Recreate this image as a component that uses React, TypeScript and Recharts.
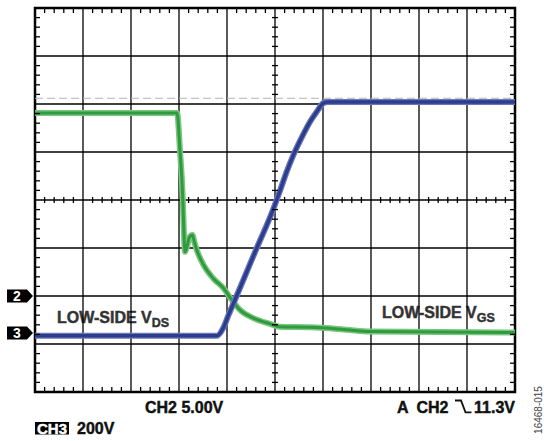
import React from "react";
import {
  ComposedChart,
  Line,
  Scatter,
  XAxis,
  YAxis,
  ReferenceLine,
  ReferenceArea,
  ReferenceDot,
} from "recharts";

const GREEN_X = [0, 2.96, 3.02, 3.08, 3.1, 3.125, 3.17, 3.21, 3.28, 3.32, 3.37, 3.51, 3.71, 3.92, 4.1, 4.27, 4.55, 4.9, 5.1, 5.73, 6.15, 6.56, 6.98, 10];
const GREEN_Y = [5.81, 5.81, 5.04, 4.0, 3.375, 2.92, 3.04, 3.21, 3.27, 3.125, 2.96, 2.65, 2.37, 2.17, 1.92, 1.71, 1.54, 1.42, 1.36, 1.35, 1.33, 1.29, 1.26, 1.24];

const BLUE_X = [0, 3.79, 3.92, 4.03, 4.2, 4.41, 4.62, 4.83, 4.96, 5.1, 5.24, 5.38, 5.56, 5.73, 5.87, 6.01, 6.1, 10];
const BLUE_Y = [1.17, 1.17, 1.33, 1.6, 2.0, 2.5, 3.0, 3.48, 3.8, 4.18, 4.58, 4.93, 5.31, 5.63, 5.84, 6.02, 6.04, 6.04];

const GHOST_X = [6.02, 10];
const GHOST_Y = [6.09, 6.09];

const CURSOR_Y = 6.12;
const MARKERS = [
  { label: "2", level: 2.0 },
  { label: "3", level: 1.23 },
];

const X_DIVS = 10;
const Y_DIVS = 8;
const MINOR = 5;

const green = GREEN_X.map((x, i) => ({ x, y: GREEN_Y[i] }));
const blue = BLUE_X.map((x, i) => ({ x, y: BLUE_Y[i] }));
const ghost = GHOST_X.map((x, i) => ({ x, y: GHOST_Y[i] }));

const minorX: number[] = [];
for (let i = 1; i < X_DIVS * MINOR; i++) if (i % MINOR) minorX.push(i / MINOR);
const minorY: number[] = [];
for (let j = 1; j < Y_DIVS * MINOR; j++) if (j % MINOR) minorY.push(j / MINOR);

const along = (ys: number) => minorX.map((x) => ({ x, y: ys }));
const down = (xs: number) => minorY.map((y) => ({ x: xs, y }));

const majorX = Array.from({ length: X_DIVS - 1 }, (_, i) => i + 1);
const majorY = Array.from({ length: Y_DIVS - 1 }, (_, i) => i + 1);

const tick = (x1: number, y1: number, x2: number, y2: number) => (p: any) => (
  <line
    x1={p.cx + x1}
    y1={p.cy + y1}
    x2={p.cx + x2}
    y2={p.cy + y2}
    stroke="#000"
    strokeWidth={1.3}
  />
);

const FONT = "'Liberation Sans', Arial, sans-serif";

const marker = (label: string) => (p: any) => {
  const tip = p.cx - 2;
  const top = p.cy - 6.5;
  const bot = p.cy + 6.5;
  return (
    <g>
      <path
        d={`M${tip - 26} ${top} H${tip - 6} L${tip} ${p.cy} L${tip - 6} ${bot} H${tip - 26} Z`}
        fill="#000"
      />
      <text
        x={tip - 16}
        y={p.cy + 5}
        textAnchor="middle"
        fill="#fff"
        fontSize={14}
        fontWeight={700}
        fontFamily={FONT}
      >
        {label}
      </text>
    </g>
  );
};

const bold = (c: string) =>
  ({ fontFamily: FONT, fontWeight: 700, fill: c, stroke: c, strokeWidth: 0.45 }) as const;

export default function App() {
  return (
    <div style={{ position: "absolute", left: 0, top: 0, background: "#fff" }}>
      <ComposedChart
        width={544}
        height={441}
        margin={{ top: 8, right: 29, bottom: 49, left: 35 }}
        style={{ fontFamily: FONT }}
      >
        <XAxis type="number" dataKey="x" domain={[0, X_DIVS]} hide />
        <YAxis type="number" dataKey="y" domain={[0, Y_DIVS]} hide />

        {majorX.map((x) => (
          <ReferenceLine key={"vx" + x} x={x} stroke="#000" strokeWidth={1.3} />
        ))}
        {majorY.map((y) => (
          <ReferenceLine key={"hy" + y} y={y} stroke="#000" strokeWidth={1.3} />
        ))}

        <ReferenceLine y={CURSOR_Y} stroke="#b4b4b4" strokeWidth={1.2} strokeDasharray="8 4" />

        <Line data={green} dataKey="y" type="monotone" stroke="#79c67c" strokeWidth={6} dot={false} isAnimationActive={false} />
        <Line data={green} dataKey="y" type="monotone" stroke="#2f9a40" strokeWidth={3} dot={false} isAnimationActive={false} />
        <Line data={ghost} dataKey="y" type="linear" stroke="#b3a5a2" strokeWidth={1.6} strokeDasharray="7 3" dot={false} isAnimationActive={false} />
        <Line data={blue} dataKey="y" type="monotone" stroke="#6a78b8" strokeWidth={6} dot={false} isAnimationActive={false} />
        <Line data={blue} dataKey="y" type="monotone" stroke="#2d3d8d" strokeWidth={3.5} dot={false} isAnimationActive={false} />

        <Scatter data={along(Y_DIVS)} shape={tick(0, 0, 0, 5)} isAnimationActive={false} />
        <Scatter data={along(0)} shape={tick(0, -5, 0, 0)} isAnimationActive={false} />
        <Scatter data={along(Y_DIVS / 2)} shape={tick(0, -3, 0, 3)} isAnimationActive={false} />
        <Scatter data={down(0)} shape={tick(0, 0, 5, 0)} isAnimationActive={false} />
        <Scatter data={down(X_DIVS)} shape={tick(-5, 0, 0, 0)} isAnimationActive={false} />
        <Scatter data={down(X_DIVS / 2)} shape={tick(-3, 0, 3, 0)} isAnimationActive={false} />

        <ReferenceArea
          x1={0}
          x2={X_DIVS}
          y1={0}
          y2={Y_DIVS}
          fill="none"
          fillOpacity={0}
          stroke="#000"
          strokeWidth={2.5}
        />

        {MARKERS.map((m) => (
          <ReferenceDot
            key={m.label}
            x={0}
            y={m.level}
            ifOverflow="visible"
            shape={marker(m.label)}
          />
        ))}

        <rect x={55} y={307} width={118} height={23} fill="#fff" />
        <text x={57} y={323} fontSize={16} {...bold("#333")}>
          LOW-SIDE V
          <tspan fontSize={12.5} dy={4}>DS</tspan>
        </text>

        <rect x={380} y={302} width={119} height={23} fill="#fff" />
        <text x={382} y={318} fontSize={16} {...bold("#333")}>
          LOW-SIDE V
          <tspan fontSize={12.5} dy={4}>GS</tspan>
        </text>

        <text x={145} y={412.5} fontSize={16} {...bold("#111")}>
          CH2 5.00V
        </text>

        <text x={397} y={413.3} fontSize={16} {...bold("#111")}>
          A
        </text>
        <text x={416.5} y={413.3} fontSize={16} {...bold("#111")}>
          CH2
        </text>
        <path d="M455 400.5 H461 L465.5 412.3 H471.5" fill="none" stroke="#111" strokeWidth={1.8} />
        <text x={515} y={413.3} fontSize={16} textAnchor="end" {...bold("#111")}>
          11.3V
        </text>

        <rect x={35} y={422} width={34} height={12.5} fill="#000" />
        <text x={52} y={433.5} fontSize={15} textAnchor="middle" {...bold("#fff")}>
          CH3
        </text>
        <text x={77} y={434} fontSize={16} {...bold("#111")}>
          200V
        </text>

        <text
          x={541.5}
          y={410}
          transform="rotate(-90 541.5 410)"
          textAnchor="middle"
          fontSize={10}
          fill="#444"
          fontFamily={FONT}
        >
          16468-015
        </text>
      </ComposedChart>
    </div>
  );
}
